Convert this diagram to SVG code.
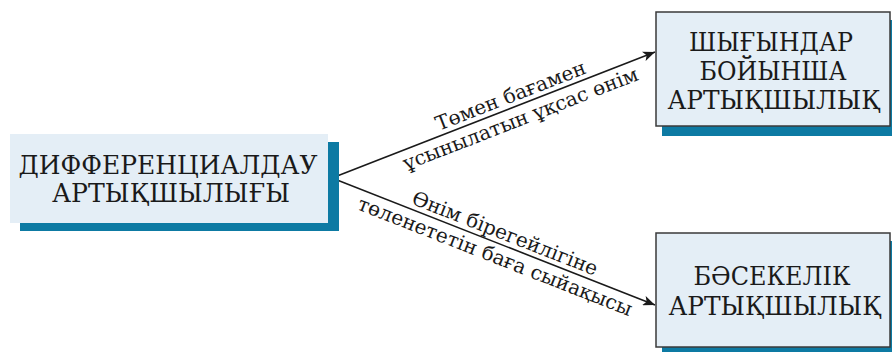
<svg xmlns="http://www.w3.org/2000/svg" width="892" height="352" viewBox="0 0 892 352">
<defs>
<style>
.box{fill:#e4eef6}
.bord{fill:#e4eef6;stroke:#3a3a3a;stroke-width:1.5}
.sh{fill:#0d7aa3}
.t{font-family:'DejaVu Serif',serif;font-size:26px;fill:#1a1a1a;text-anchor:middle}
.l{font-family:'DejaVu Serif',serif;font-size:20px;fill:#1a1a1a;text-anchor:middle}
.c{stroke:#1a1a1a;stroke-width:1.6;fill:none}
</style>
<marker id="ah" viewBox="0 0 12 10" refX="12" refY="5" markerWidth="12" markerHeight="10" markerUnits="userSpaceOnUse" orient="auto">
<path d="M0,0 L12,5 L0,10 L3,5 Z" fill="#1a1a1a"/>
</marker>
</defs>
<rect width="892" height="352" fill="#ffffff"/>
<g id="connectors">
<line class="c" x1="332" y1="178" x2="655" y2="52" marker-end="url(#ah)"/>
<line class="c" x1="332" y1="178" x2="655" y2="305" marker-end="url(#ah)"/>
<text class="l" transform="translate(513,102) rotate(-21.3)">Төмен бағамен</text>
<text class="l" transform="translate(523,125) rotate(-21.3)">ұсынылатын ұқсас өнім</text>
<text class="l" transform="translate(502.5,239.6) rotate(21.46)">Өнім бірегейлігіне</text>
<text class="l" transform="translate(492.7,262.6) rotate(21.46)">төленететін баға сыйақысы</text>
</g>
<g id="node-diff">
<rect class="sh" x="20" y="142" width="319" height="89"/>
<rect class="box" x="10" y="134" width="318" height="89"/>
<text class="t" x="168" y="174" textLength="299" lengthAdjust="spacingAndGlyphs">ДИФФЕРЕНЦИАЛДАУ</text>
<text class="t" x="171" y="202" textLength="238" lengthAdjust="spacingAndGlyphs">АРТЫҚШЫЛЫҒЫ</text>
</g>
<g id="node-cost">
<rect class="sh" x="662" y="20" width="232" height="116"/>
<rect class="bord" x="656" y="12" width="234" height="114"/>
<text class="t" x="771" y="51" textLength="164" lengthAdjust="spacingAndGlyphs">ШЫҒЫНДАР</text>
<text class="t" x="773" y="80" textLength="147" lengthAdjust="spacingAndGlyphs">БОЙЫНША</text>
<text class="t" x="774" y="109" textLength="213" lengthAdjust="spacingAndGlyphs">АРТЫҚШЫЛЫҚ</text>
</g>
<g id="node-comp">
<rect class="sh" x="662" y="241" width="232" height="116"/>
<rect class="bord" x="656" y="233" width="234" height="114"/>
<text class="t" x="772" y="285" textLength="157" lengthAdjust="spacingAndGlyphs">БӘСЕКЕЛІК</text>
<text class="t" x="775" y="315" textLength="213" lengthAdjust="spacingAndGlyphs">АРТЫҚШЫЛЫҚ</text>
</g>
</svg>
